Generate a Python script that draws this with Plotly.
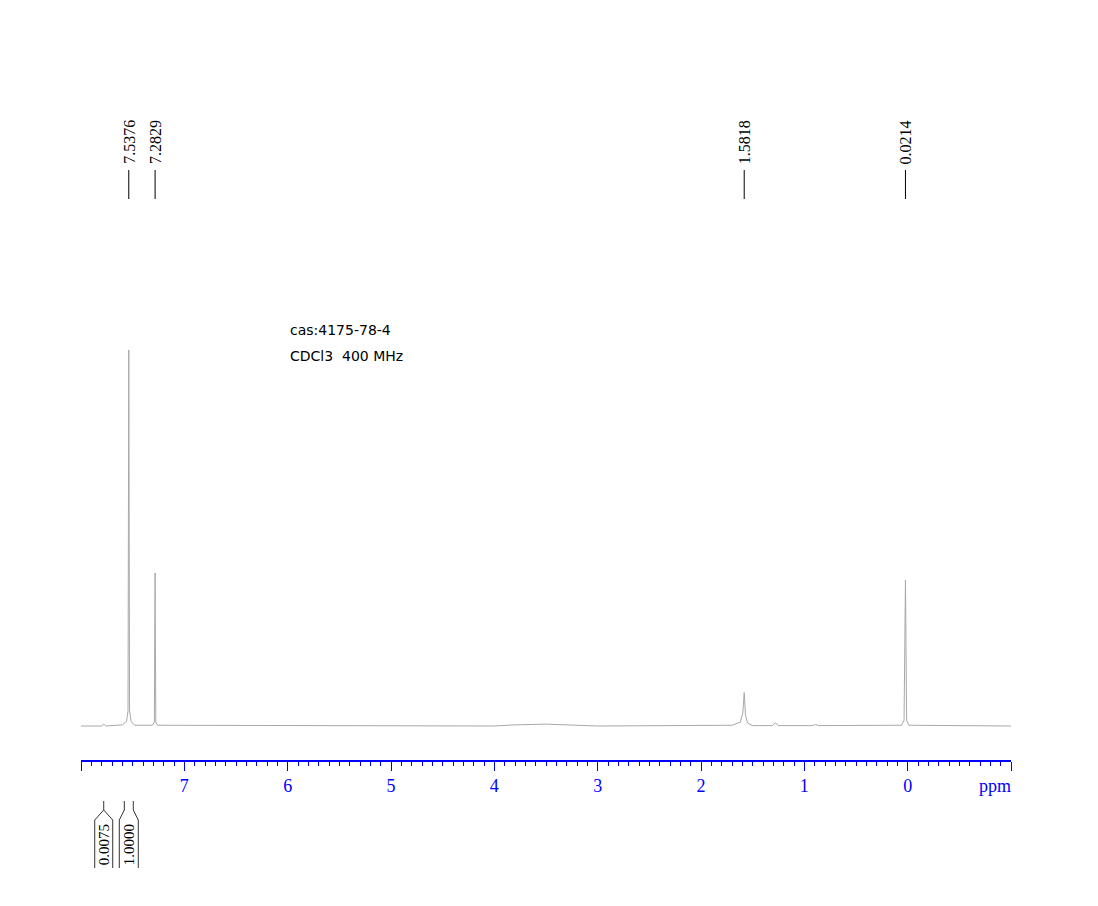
import plotly.graph_objects as go

# ---- data ----
ppm = [8.0, 7.80, 7.78, 7.76, 7.60, 7.56, 7.545, 7.5376, 7.53, 7.515, 7.48,
       7.31, 7.29, 7.2829, 7.276, 7.26, 4.0, 3.8, 3.5, 3.2, 3.0,
       1.70, 1.62, 1.595, 1.5818, 1.57, 1.55, 1.50, 1.31, 1.28, 1.25,
       0.92, 0.89, 0.86, 0.06, 0.035, 0.0214, 0.010, -0.01, -1.0]
intensity = [0, 0, 0.005, 0, 0.003, 0.012, 0.04, 1.0, 0.04, 0.012, 0.002,
             0.002, 0.01, 0.407, 0.01, 0.002, 0, 0.003, 0.005, 0.003, 0,
             0.002, 0.01, 0.035, 0.089, 0.03, 0.008, 0.001, 0.001, 0.008, 0.001,
             0.001, 0.004, 0.001, 0.002, 0.015, 0.388, 0.015, 0.002, 0]

peak_labels = [7.5376, 7.2829, 1.5818, 0.0214]

integral_start = [7.78, 7.581]
integral_end = [7.78, 7.494]
integral_values = ["0.0075", "1.0000"]

major_ticks = [8, 7, 6, 5, 4, 3, 2, 1, 0, -1]
major_text = ["", "7", "6", "5", "4", "3", "2", "1", "0", ""]

info_lines = ["cas:4175-78-4", "CDCl3\u00a0\u00a0400 MHz"]

# ---- layout helpers (page body has an 8px margin) ----
W, H = 1098, 906
OFF = 8
PLOT_L, PLOT_R, PLOT_T, PLOT_B = 81, 1011, 100, 760   # screen pixels
PW, PH = PLOT_R - PLOT_L, PLOT_B - PLOT_T
L, T = PLOT_L - OFF, PLOT_T - OFF
R, B = W - L - PW, H - T - PH
PX_PER_PPM = PW / 9.0


def py(p):
    return (PLOT_B - p) / PH


def px(p):
    return (p - PLOT_L) / PW


blue = "#0000ff"

fig = go.Figure()
fig.add_trace(go.Scatter(x=ppm, y=intensity, mode="lines",
                         line=dict(color="#a8a8a8", width=1),
                         hoverinfo="skip", showlegend=False))

shapes = []
annotations = []

# peak labels
for p in peak_labels:
    label = f"{p:.4f}"
    shapes.append(dict(type="line", xref="x", yref="paper", x0=p, x1=p,
                       y0=py(199), y1=py(170), line=dict(color="black", width=1)))
    annotations.append(dict(x=p, y=py(166), xref="x", yref="paper", text=label,
                            textangle=-90, showarrow=False, xanchor="center",
                            yanchor="bottom",
                            font=dict(family="Liberation Serif", size=16, color="black")))

# integral brackets
for s, e, v in zip(integral_start, integral_end, integral_values):
    c = (s + e) / 2
    half = max(abs(s - e) / 2 + 5 / PX_PER_PPM, 9 / PX_PER_PPM)
    lo, hi = c - half, c + half
    y0, y1, y2, y3 = py(801), py(810), py(820), py(868)
    if abs(s - e) < 1e-9:
        path = (f"M {s} {y0} L {s} {y1} M {hi} {y3} L {hi} {y2} L {s} {y1} "
                f"L {lo} {y2} L {lo} {y3}")
    else:
        path = (f"M {s} {y0} L {s} {y1} L {hi} {y2} L {hi} {y3} "
                f"M {e} {y0} L {e} {y1} L {lo} {y2} L {lo} {y3}")
    shapes.append(dict(type="path", xref="x", yref="paper", path=path,
                       line=dict(color="#333333", width=1)))
    annotations.append(dict(x=c, y=py(867), xref="x", yref="paper", text=v,
                            textangle=-90, showarrow=False, xanchor="center",
                            yanchor="bottom",
                            font=dict(family="Liberation Serif", size=15, color="black")))

# info text
for i, t in enumerate(info_lines):
    annotations.append(dict(x=px(288), y=py(330 + 26 * i),
                            xref="paper", yref="paper", text=t, showarrow=False,
                            xanchor="left", yanchor="middle",
                            font=dict(family="DejaVu Sans", size=14, color="black")))

# ppm unit label
annotations.append(dict(x=px(995), y=py(786), xref="paper", yref="paper",
                        text="ppm", showarrow=False, xanchor="center", yanchor="middle",
                        font=dict(family="Liberation Serif", size=18, color=blue)))

ymin = -(760 - 726) / 376
ymax = (726 - 100) / 376

fig.update_layout(
    width=W, height=H,
    margin=dict(l=L, r=R, t=T, b=B, pad=0),
    paper_bgcolor="white", plot_bgcolor="white",
    shapes=shapes, annotations=annotations,
    xaxis=dict(range=[8, -1], showgrid=False, zeroline=False,
               showline=True, linecolor=blue, linewidth=1.5,
               tickmode="array", tickvals=major_ticks, ticktext=major_text,
               ticks="outside", ticklen=9, tickwidth=1, tickcolor=blue,
               tickfont=dict(family="Liberation Serif", size=18, color=blue),
               minor=dict(tickmode="linear", tick0=0, dtick=0.1, ticks="outside",
                          ticklen=4, tickwidth=1, tickcolor=blue, showgrid=False)),
    yaxis=dict(range=[ymin, ymax], visible=False, showgrid=False, zeroline=False),
)

fig.write_html("out.html")
